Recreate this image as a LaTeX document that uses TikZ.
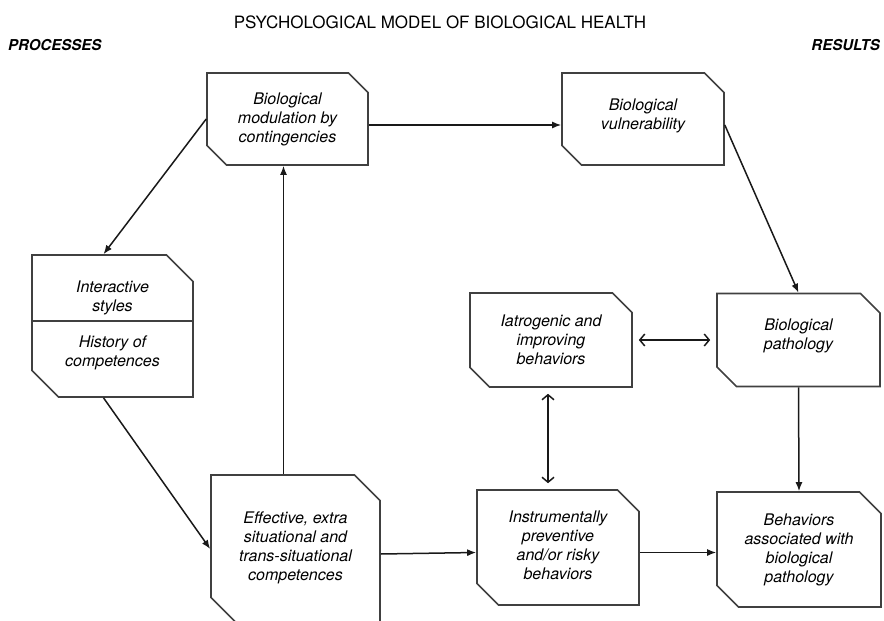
\documentclass[tikz,border=0pt]{standalone}
\usepackage{fontspec}
\setmainfont{TeX Gyre Heros}
\usetikzlibrary{shapes.misc,arrows.meta}

\begin{document}
\begin{tikzpicture}[x=1pt,y=-1pt]
    \tikzstyle{box}=[chamfered rectangle, chamfered rectangle corners={north east,south west},
      chamfered rectangle xsep=16pt, draw=black!75, line width=1.6pt, inner sep=0pt,
      align=center, font=\fontsize{16}{19}\selectfont\itshape]
    \tikzstyle{flow}=[draw=black!90, line width=1.5pt, -{Latex[length=9pt,width=7pt]}]
    \tikzstyle{both}=[draw=black!90, line width=1.5pt, {Straight Barb[length=5pt,width=12pt]}-{Straight Barb[length=5pt,width=12pt]}, shorten <=6pt, shorten >=6pt]
    \useasboundingbox (0,0) rectangle (884,621);
    \node (title) at (440,22) {\fontsize{17}{20}\selectfont PSYCHOLOGICAL MODEL OF BIOLOGICAL HEALTH};
    \node[anchor=west, inner sep=0pt] (proc) at (8,45) {\fontsize{15}{16}\selectfont\bfseries\itshape PROCESSES};
    \node[anchor=east, inner sep=0pt] (res) at (880,45) {\fontsize{15}{16}\selectfont\bfseries\itshape RESULTS};
    % boxes
    \node[box, minimum width=161pt, minimum height=92pt] (mod) at (287.5,119) {Biological\\modulation by\\contingencies};
    \node[box, minimum width=162pt, minimum height=92pt] (vuln) at (643,119) {Biological\\vulnerability\\[-10pt]};
    \node[box, chamfered rectangle xsep=23pt, minimum width=161pt, minimum height=142pt] (inter) at (112.5,326)
      {Interactive\\styles\\[17pt]History of\\competences\\[-14pt]};
    \node[box, chamfered rectangle xsep=22pt, minimum width=169pt, minimum height=148pt] (eff) at (295.5,549) {Effective, extra\\situational and\\trans-situational\\competences\\[-13pt]};
    \node[box, minimum width=162pt, minimum height=94pt] (iat) at (551,340) {Iatrogenic and\\improving\\behaviors};
    \node[box, minimum width=163pt, minimum height=93pt] (path) at (798.5,340) {Biological\\pathology\\[-8pt]};
    \node[box, chamfered rectangle xsep=18pt, minimum width=162pt, minimum height=115pt] (instr) at (558,547.5) {Instrumentally\\preventive\\and/or risky\\behaviors\\[-15pt]};
    \node[box, chamfered rectangle xsep=18pt, minimum width=164pt, minimum height=115pt] (beh) at (799,549.5) {Behaviors\\associated with\\biological\\pathology};
    % divider of the left box
    \draw[draw=black!75, line width=1.6pt] (inter.west |- 0,321) -- (inter.east |- 0,321);
    % connectors
    \draw[flow] (mod.west) -- ([xshift=-9pt]inter.north);
    \draw[flow] ([xshift=-9pt]inter.south) -- (eff.west);
    \draw[flow] ([xshift=-4pt]eff.north -| mod.south) -- ([xshift=-4pt]mod.south);
    \draw[flow] ([yshift=-6pt]mod.east) -- ([yshift=-6pt]vuln.west);
    \draw[flow] ([yshift=-6pt]vuln.east) -- (path.north);
    \draw[flow] (path.south) -- (beh.north);
    \draw[flow] ([yshift=-5pt]eff.east) -- ([yshift=-5pt]instr.west);
    \draw[flow] ([yshift=-5pt]instr.east) -- ([yshift=-3pt]beh.west);
    \draw[both] (iat.east) -- (path.west);
    \draw[both] ([xshift=-3pt]iat.south) -- ([xshift=-3pt]iat.south |- instr.north);
  \end{tikzpicture}
\end{document}
